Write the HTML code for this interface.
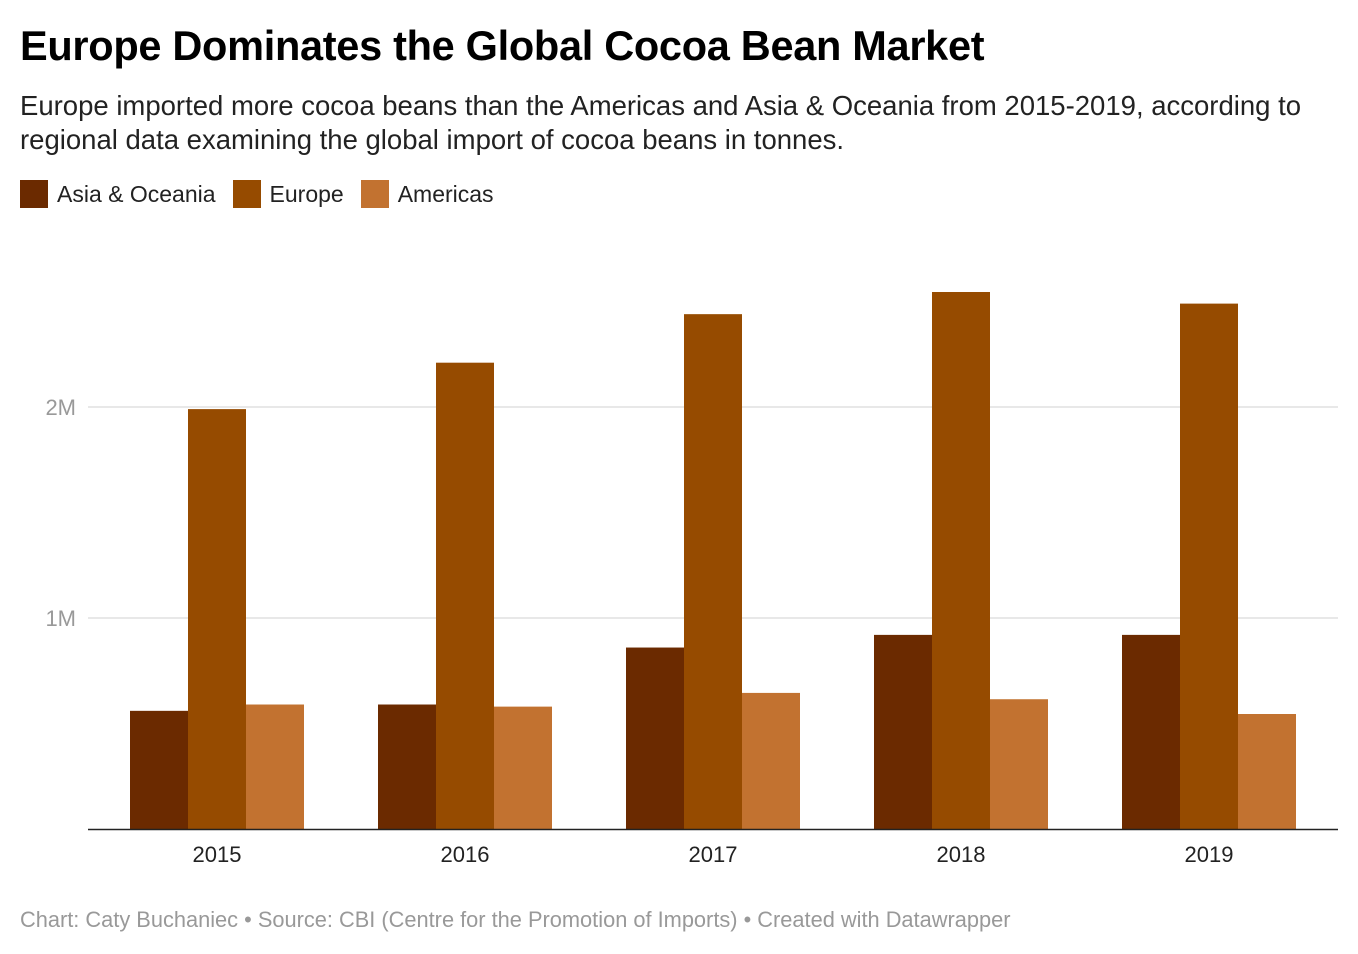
<!DOCTYPE html>
<html><head><meta charset="utf-8"><style>
body{margin:0;background:#fff;font-family:"Liberation Sans",Arial,sans-serif;width:1358px;height:954px;overflow:hidden;position:relative}
.t{position:absolute;left:20px;top:22px;font-size:41.5px;font-weight:bold;color:#000;letter-spacing:-0.3px}
.s{position:absolute;left:20px;top:89px;font-size:27.5px;line-height:34px;color:#222;width:1330px}
.lg{position:absolute;top:180px;left:20px;font-size:23px;color:#222;display:flex;align-items:center}
.lg span.b{display:inline-block;width:28px;height:28px;margin-right:9px}
.lg span.i{display:flex;align-items:center;margin-right:17px}
.f{position:absolute;left:20px;top:907px;font-size:21.8px;color:#999}
svg{position:absolute;left:0;top:0}
</style></head><body>
<div class="t">Europe Dominates the Global Cocoa Bean Market</div>
<div class="s">Europe imported more cocoa beans than the Americas and Asia &amp; Oceania from 2015-2019, according to regional data examining the global import of cocoa beans in tonnes.</div>
<div class="lg">
<span class="i"><span class="b" style="background:#6b2a00"></span>Asia &amp; Oceania</span>
<span class="i"><span class="b" style="background:#964b00"></span>Europe</span>
<span class="i"><span class="b" style="background:#c27230"></span>Americas</span>
</div>
<svg id="c" width="1358" height="954"></svg>
<div class="f">Chart: Caty Buchaniec • Source: CBI (Centre for the Promotion of Imports) • Created with Datawrapper</div>
<script>
const years=["2015","2016","2017","2018","2019"];
const asia=[0.56,0.59,0.86,0.92,0.92];
const europe=[1.99,2.21,2.44,2.545,2.49];
const americas=[0.59,0.58,0.645,0.615,0.545];
const ticks=[1,2];
const tickLabels=["1M","2M"];
const svg=document.getElementById('c');
const NS="http://www.w3.org/2000/svg";
const y0=829,ppu=211,x0=93,step=248,bw=58,left=88,right=1338;
const y=v=>y0-v*ppu;
const xc=i=>x0+(i+0.5)*step;
function mk(t,a){const e=document.createElementNS(NS,t);for(const k in a)e.setAttribute(k,a[k]);svg.appendChild(e);return e;}
ticks.forEach((t,i)=>{
 const g=mk('line',{x1:left,x2:right,y1:y(t),y2:y(t),stroke:'#e0e0e0','stroke-width':1.5});
 
 
 const l=mk('text',{x:76,y:y(t)+8,'text-anchor':'end','font-size':22,fill:'#999','font-family':'Liberation Sans, sans-serif'});
 l.textContent=tickLabels[i];
 
 
});
const series=[[asia,'#6b2a00','asia'],[europe,'#964b00','europe'],[americas,'#c27230','americas']];
years.forEach((yr,i)=>{
 series.forEach((s,j)=>{
  const v=s[0][i];
  const r=mk('rect',{x:xc(i)-1.5*bw+j*bw,y:y(v),width:bw,height:v*ppu,fill:s[1]});
  
  
 });
 const t=mk('text',{x:xc(i),y:862,'text-anchor':'middle','font-size':22,fill:'#222','font-family':'Liberation Sans, sans-serif'});
 t.textContent=yr;
 
 
});
const ax=mk('line',{x1:left,x2:right,y1:y0+0.5,y2:y0+0.5,stroke:'#222','stroke-width':1.5});


</script>
</body></html>
